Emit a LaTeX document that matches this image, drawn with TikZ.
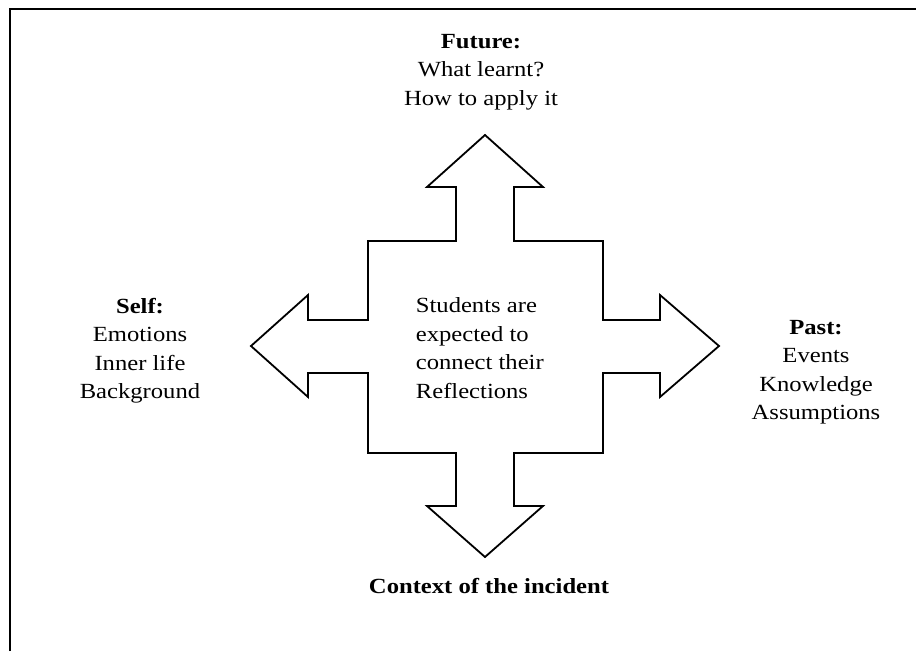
\documentclass[tikz,border=0pt]{standalone}
\usepackage{fontspec}
\setmainfont[FakeStretch=1.14]{Liberation Serif}
\usepackage{tikz}

\begin{document}
\begin{tikzpicture}[x=1pt,y=-1pt,line width=1.8pt,line join=miter]
	\tikzstyle{txt}=[inner sep=0pt,align=center,font=\fontsize{21.6}{28.5}\selectfont]
	\useasboundingbox (0,0) rectangle (916,651);
	
	% frame
	\draw (10,651) -- (10,9) -- (916,9);
	
	% the cross of four arrows
	\draw (485,135) -- (543,187) -- (514,187) -- (514,241) -- (603,241) -- (603,320)
		-- (660,320) -- (660,295) -- (719,346) -- (660,397) -- (660,373) -- (603,373)
		-- (603,453) -- (514,453) -- (514,506) -- (543,506) -- (485,557) -- (427,506)
		-- (456,506) -- (456,453) -- (368,453) -- (368,373) -- (308,373) -- (308,397)
		-- (251,346) -- (308,295) -- (308,320) -- (368,320) -- (368,241) -- (456,241)
		-- (456,187) -- (427,187) -- cycle;
	
	\node[txt,anchor=north](future) at (481,33){\textbf{Future:}\\What learnt?\\How to apply it};
	\node[txt,anchor=north](self) at (140,297){\textbf{Self:}\\Emotions\\Inner life\\Background};
	\node[txt,anchor=north](past) at (816,319){\textbf{Past:}\\Events\\Knowledge\\Assumptions};
	\node[txt,anchor=north west,align=left](centre) at (415,297){Students are\\expected to\\connect their\\Reflections};
	\node[txt,anchor=base](context) at (489,593){\textbf{Context of the incident}};
	
\end{tikzpicture}
\end{document}
